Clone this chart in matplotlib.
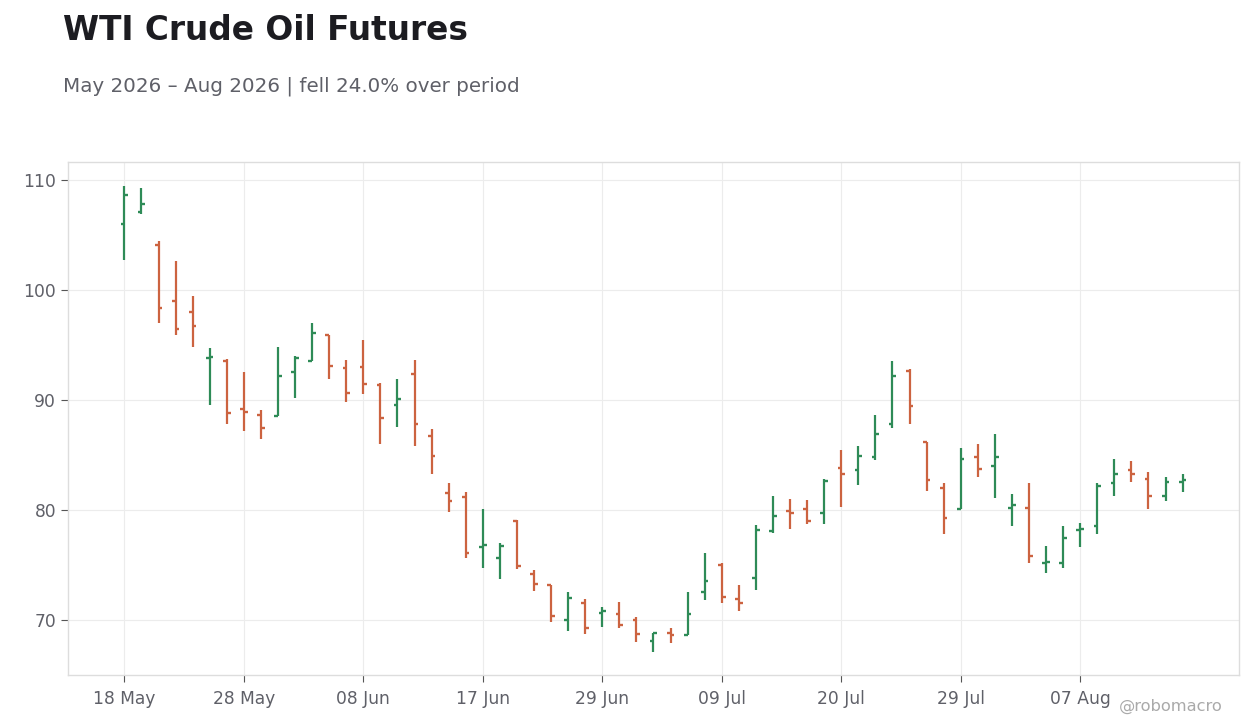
import matplotlib
matplotlib.use("Agg")
import matplotlib.pyplot as plt
import numpy as np

# daily OHLC, trading days from 18 May 2026
opens = [106.0, 107.1, 104.1, 99.0, 98.0, 93.8, 93.5, 89.2, 88.6, 88.5,
         92.5, 93.5, 95.9, 92.9, 93.0, 91.3, 89.5, 92.3, 86.7, 81.5,
         81.2, 76.6, 75.6, 79.0, 74.2, 73.2, 70.0, 71.5, 70.6, 70.5,
         70.0, 68.1, 68.8, 68.6, 72.5, 75.0, 71.9, 73.8, 78.1, 79.9,
         80.1, 79.7, 83.8, 83.6, 84.8, 87.8, 92.6, 86.2, 82.0, 80.1,
         84.8, 84.0, 80.2, 80.2, 75.2, 75.2, 78.2, 78.5, 82.4, 83.6,
         82.8, 81.3, 82.5]
highs = [109.4, 109.2, 104.4, 102.6, 99.4, 94.7, 93.7, 92.5, 89.1, 94.8,
         94.0, 97.0, 95.9, 93.6, 95.4, 91.5, 91.9, 93.6, 87.3, 82.4,
         81.6, 80.1, 77.0, 79.1, 74.5, 73.2, 72.5, 71.9, 71.2, 71.6,
         70.3, 68.8, 69.3, 72.5, 76.1, 75.2, 73.2, 78.6, 81.3, 81.0,
         80.9, 82.8, 85.4, 85.8, 88.6, 93.5, 92.8, 86.2, 82.4, 85.6,
         86.0, 86.9, 81.4, 82.4, 76.7, 78.5, 78.8, 82.4, 84.6, 84.4,
         83.4, 83.0, 83.3]
lows = [102.7, 106.9, 97.0, 95.9, 94.8, 89.5, 87.8, 87.2, 86.4, 88.5,
        90.2, 93.5, 91.9, 89.8, 90.5, 86.0, 87.5, 85.8, 83.3, 79.8,
        75.6, 74.7, 73.7, 74.6, 72.6, 69.8, 69.0, 68.7, 69.4, 69.3,
        68.0, 67.1, 67.9, 68.6, 71.8, 71.5, 70.8, 72.7, 77.9, 78.3,
        78.7, 78.7, 80.3, 82.3, 84.5, 87.4, 87.8, 81.7, 77.8, 80.1,
        83.0, 81.1, 78.5, 75.2, 74.3, 74.7, 76.6, 77.8, 81.3, 82.5,
        80.1, 80.8, 81.6]
closes = [108.6, 107.8, 98.3, 96.4, 96.7, 93.9, 88.8, 88.9, 87.4, 92.2,
          93.8, 96.1, 93.1, 90.6, 91.4, 88.3, 90.1, 87.8, 84.9, 80.8,
          76.1, 76.8, 76.7, 74.9, 73.3, 70.4, 72.0, 69.3, 70.8, 69.5,
          68.7, 68.8, 68.6, 70.5, 73.5, 72.1, 71.5, 78.2, 79.4, 79.7,
          79.0, 82.6, 83.3, 84.9, 86.9, 92.2, 89.4, 82.7, 79.3, 84.6,
          83.7, 84.8, 80.4, 75.8, 75.3, 77.4, 78.3, 82.2, 83.3, 83.3,
          81.3, 82.5, 82.7]
tick_labels = ["18 May", "28 May", "08 Jun", "17 Jun", "29 Jun",
               "09 Jul", "20 Jul", "29 Jul", "07 Aug"]

up_color = "#2e8b57"
down_color = "#cc6340"
text_color = "#5f6068"

o = np.array(opens)
h = np.array(highs)
l = np.array(lows)
c = np.array(closes)
x = np.arange(len(o))
colors = np.where(c >= o, up_color, down_color)

fig = plt.figure(figsize=(12.6, 7.28), dpi=100)
ax = fig.add_axes([0.054, 0.0728, 0.9293, 0.7047])

w = 0.22
ax.vlines(x, l, h, colors=colors, linewidth=1.6, zorder=3)
ax.hlines(o, x - w, x, colors=colors, linewidth=1.7, zorder=3)
ax.hlines(c, x, x + w, colors=colors, linewidth=1.7, zorder=3)

ax.set_xlim(-3.3, len(o) - 1 + 3.3)
ax.set_ylim(65, 111.6)
ax.set_yticks([70, 80, 90, 100, 110])
ax.set_xticks(np.arange(0, len(o), 7))
ax.set_xticklabels(tick_labels)

ax.grid(True, color="#ececec", linewidth=0.8, zorder=0)
for s in ax.spines.values():
    s.set_color("#dddddd")
    s.set_linewidth(1)
ax.tick_params(axis="both", colors="#555555", labelcolor=text_color,
               labelsize=12.3, length=5, width=0.8)
ax.tick_params(axis="x", pad=6)

fig.text(0.05, 0.945, "WTI Crude Oil Futures", fontsize=23.6, fontweight="bold",
         color="#1c1c21", va="baseline")
fig.text(0.05, 0.874, "May 2026 \u2013 Aug 2026 | fell 24.0% over period",
         fontsize=14.3, color=text_color, va="baseline")
fig.text(0.97, 0.024, "@robomacro", fontsize=11.7, color="#aaaaaa",
         ha="right", va="baseline")

fig.savefig("out.png", dpi=100)
